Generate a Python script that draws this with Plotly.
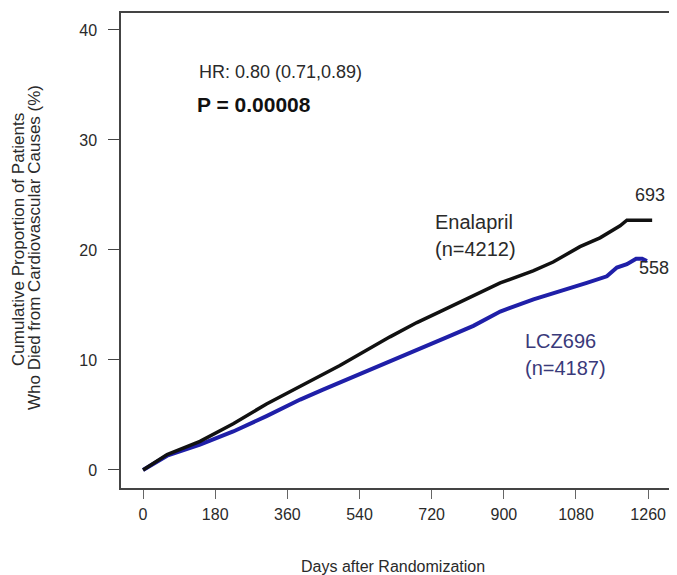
import plotly.graph_objects as go

# Data
enal_days = [0, 60, 142, 225, 308, 392, 491, 616, 683, 741, 848, 891, 973, 1023, 1090, 1140, 1190, 1207, 1270]
enal_pct = [0, 1.4, 2.6, 4.2, 6.0, 7.6, 9.5, 12.1, 13.4, 14.4, 16.2, 17.0, 18.1, 18.9, 20.3, 21.1, 22.2, 22.7, 22.7]

lcz_days = [0, 60, 142, 225, 308, 392, 449, 574, 699, 760, 824, 891, 974, 1057, 1107, 1157, 1182, 1207, 1230, 1245, 1257]
lcz_pct = [0, 1.3, 2.3, 3.5, 4.9, 6.4, 7.3, 9.2, 11.1, 12.1, 13.1, 14.4, 15.5, 16.4, 17.0, 17.6, 18.4, 18.7, 19.2, 19.2, 19.0]

x_ticks = [0, 180, 360, 540, 720, 900, 1080, 1260]
y_ticks = [0, 10, 20, 30, 40]

FONT = "Liberation Sans, Arial, sans-serif"
TXT = "#2a2a2a"

fig = go.Figure()
fig.add_trace(go.Scatter(x=lcz_days, y=lcz_pct, mode="lines",
                         line=dict(color="#1f1fa8", width=4), showlegend=False))
fig.add_trace(go.Scatter(x=enal_days, y=enal_pct, mode="lines",
                         line=dict(color="#111111", width=3.5), showlegend=False))

# page has an 8px body margin: figure spans screen px 8..677 x 8..575
OFF = 8
SW, SH = 677, 575
PL, PR, PT, PB = 121, 677, 13, 488   # plot area in screen pixels

fig.update_layout(
    width=SW - OFF, height=SH - OFF,
    margin=dict(l=PL - OFF, r=SW - PR, t=PT - OFF, b=SH - PB),
    paper_bgcolor="white", plot_bgcolor="white",
    font=dict(family=FONT, color=TXT),
    xaxis=dict(range=[-55, 1332], tickvals=x_ticks, ticktext=[str(v) for v in x_ticks],
               showgrid=False, zeroline=False, showline=True, mirror=True,
               linecolor="#444", linewidth=1.5, ticks="outside", ticklen=9,
               tickcolor="#666", tickwidth=1, tickfont=dict(size=16, color=TXT),
               ticklabelstandoff=2),
    yaxis=dict(range=[-1.64, 41.54], tickvals=y_ticks, ticktext=[str(v) for v in y_ticks],
               showgrid=False, zeroline=False, showline=True, mirror=False,
               linecolor="#444", linewidth=1.5, ticks="outside", ticklen=11,
               tickcolor="#444", tickwidth=1, tickfont=dict(size=16, color=TXT),
               ticklabelstandoff=8),
)

def px_x(p):
    return (p - PL) / (PR - PL)

def px_y(p):
    return (PB - p) / (PB - PT)

ann = []
# axis titles
ann.append(dict(text="Days after Randomization", x=px_x(393), y=px_y(566), xref="paper", yref="paper",
                showarrow=False, xanchor="center", yanchor="middle", font=dict(size=16, color=TXT)))
ann.append(dict(text="Cumulative Proportion of Patients", x=px_x(18), y=px_y(240), xref="paper", yref="paper",
                showarrow=False, xanchor="center", yanchor="middle", textangle=-90, font=dict(size=17, color=TXT)))
ann.append(dict(text="Who Died from Cardiovascular Causes (%)", x=px_x(34), y=px_y(248), xref="paper", yref="paper",
                showarrow=False, xanchor="center", yanchor="middle", textangle=-90, font=dict(size=17, color=TXT)))

# in-plot labels (data coordinates)
def lab(text, x, y, size, color=TXT, bold=False):
    t = f"<b>{text}</b>" if bold else text
    ann.append(dict(text=t, x=x, y=y, xref="x", yref="y", showarrow=False,
                    xanchor="left", yanchor="middle", font=dict(size=size, color=color)))

lab("HR: 0.80 (0.71,0.89)", 135, 36.2, 18)
lab("P = 0.00008", 130, 33.2, 21, color="#111", bold=True)
lab("Enalapril", 724, 22.5, 20)
lab("(n=4212)", 724, 20.1, 20)
lab("693", 1223, 25.0, 18)
lab("558", 1233, 18.4, 18)
lab("LCZ696", 948, 11.7, 20, color="#3a3a7a")
lab("(n=4187)", 948, 9.3, 20, color="#3a3a7a")

fig.update_layout(annotations=ann)
fig.write_html("out.html")
